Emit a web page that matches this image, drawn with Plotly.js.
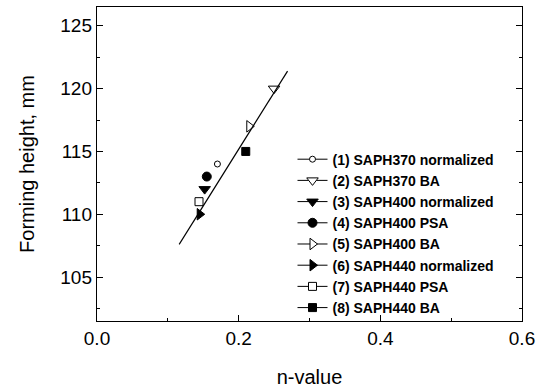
<!DOCTYPE html>
<html>
<head>
<meta charset="utf-8">
<script src="https://cdn.plot.ly/plotly-3.0.1.min.js"></script>
<style>html,body{margin:0;padding:0;background:#fff}#chart{width:546px;height:392px}</style>
</head>
<body>
<div id="chart"></div>
<script>
const names = ["(1) SAPH370 normalized","(2) SAPH370 BA","(3) SAPH400 normalized","(4) SAPH400 PSA","(5) SAPH400 BA","(6) SAPH440 normalized","(7) SAPH440 PSA","(8) SAPH440 BA"];
const nValues = [0.170, 0.250, 0.152, 0.155, 0.215, 0.145, 0.144, 0.210];
const formingHeights = [114.0, 120.0, 112.0, 113.0, 117.0, 110.0, 111.0, 115.0];
const symbols = ["circle","triangle-down","triangle-down","circle","triangle-right","triangle-right","square","square"];
const filled = [false, false, true, true, false, true, false, true];
const sizes = [6, 10, 10, 9, 10, 10, 8, 8];
const fitX = [0.116, 0.269];
const fitY = [107.6, 121.4];
const xTicks = [0.0, 0.2, 0.4, 0.6];
const yTicks = [105, 110, 115, 120, 125];

const traces = names.map((n, i) => ({
  type: 'scatter', mode: 'lines+markers', name: n,
  x: [nValues[i]], y: [formingHeights[i]],
  line: {color: '#000', width: 1},
  marker: {symbol: symbols[i], size: sizes[i], color: filled[i] ? '#000' : '#fff',
           line: {color: '#000', width: 1}},
  cliponaxis: false
}));
traces.push({type: 'scatter', mode: 'lines', x: fitX, y: fitY, showlegend: false,
  line: {color: '#000', width: 1.2}});

const fam = 'Liberation Sans, Arial, sans-serif';
const axisCommon = {showgrid: false, zeroline: false, showline: true, linecolor: '#000', linewidth: 1.2,
  ticks: 'inside', ticklen: 6, tickcolor: '#000', tickwidth: 1,
  tickfont: {family: fam, size: 19, color: '#000'}};

const layout = {
  width: 546, height: 392,
  margin: {l: 97, r: 24, t: 7, b: 71},
  paper_bgcolor: '#fff', plot_bgcolor: '#fff',
  showlegend: true,
  xaxis: Object.assign({}, axisCommon, {range: [0, 0.6], tickvals: xTicks, ticktext: xTicks.map(v => v.toFixed(1)), mirror: true,
    minor: {dtick: 0.1, ticks: 'inside', ticklen: 3, tickcolor: '#000'},
    title: {text: 'n-value', font: {family: fam, size: 20, color: '#000'}, standoff: 22}}),
  yaxis: Object.assign({}, axisCommon, {range: [101.5, 126.5], tickvals: yTicks, mirror: 'ticks',
    minor: {dtick: 2.5, ticks: 'inside', ticklen: 3, tickcolor: '#000'},
    title: {text: 'Forming height, mm', font: {family: fam, size: 20, color: '#000'}, standoff: 20}}),
  legend: {x: 0.46, y: 0.565, xanchor: 'left', yanchor: 'top', bgcolor: 'rgba(0,0,0,0)', borderwidth: 0,
    font: {family: fam, size: 14, color: '#000', weight: 'bold'},
    tracegroupgap: 0, itemwidth: 30}
};

Plotly.newPlot('chart', traces, layout, {displayModeBar: false, staticPlot: true});
</script>
</body>
</html>
